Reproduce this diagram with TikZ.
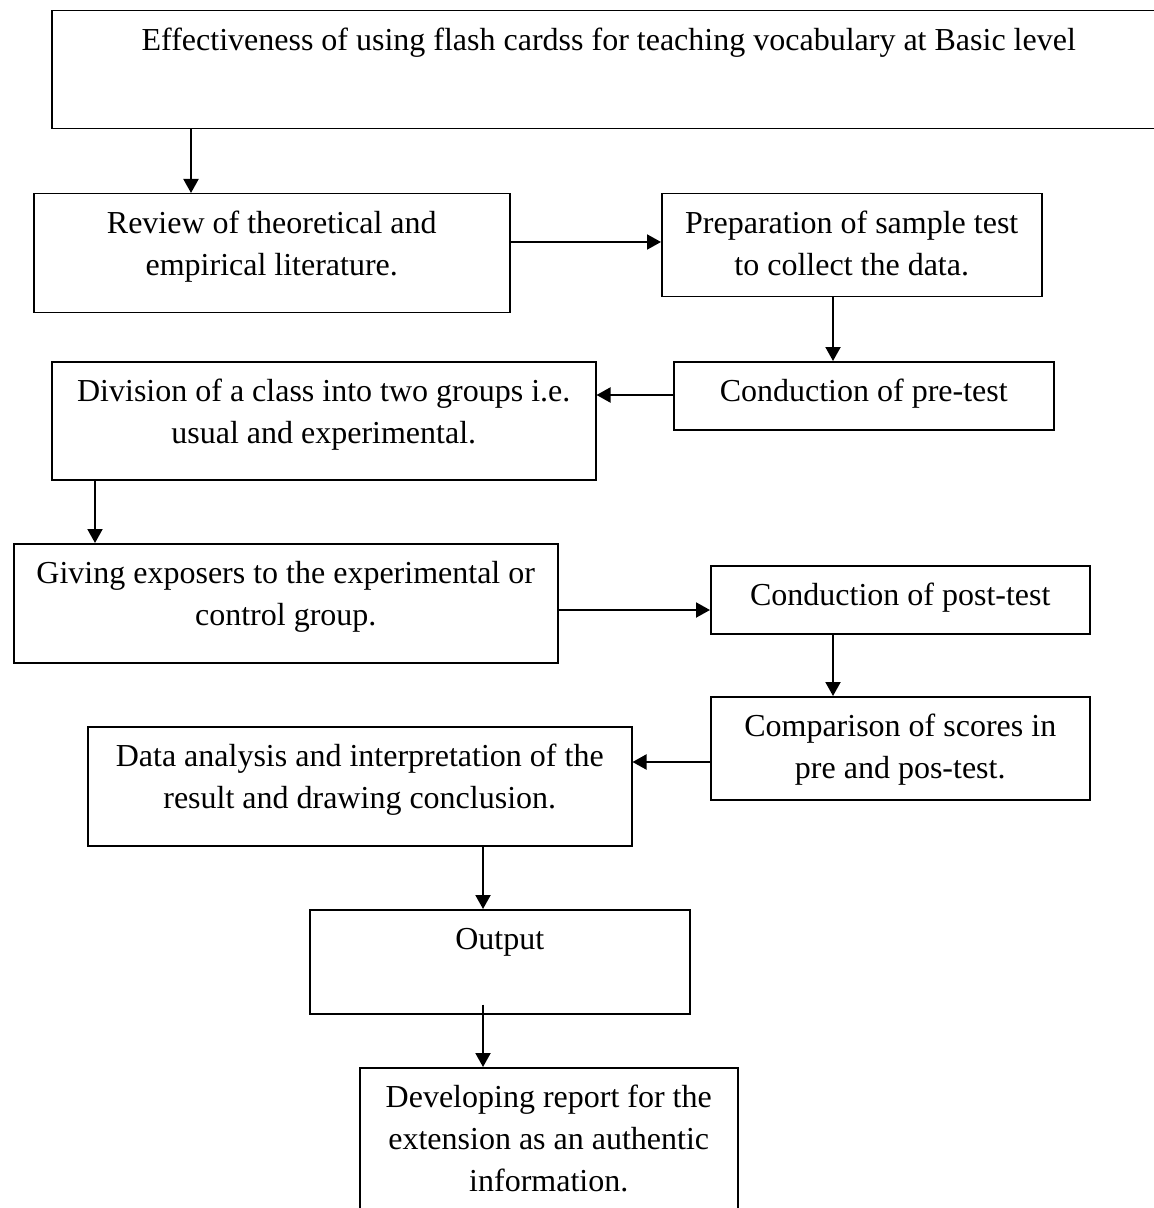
\documentclass[tikz,border=0pt]{standalone}
\usepackage{fontspec}
\setmainfont{Liberation Serif}
\usepackage{tikz}
\usetikzlibrary{arrows.meta}

% box of fixed size, text starting at the top
\newcommand{\boxtext}[3]{\parbox[c][#2][t]{#1}{\centering\rule{0pt}{20pt}#3}}

\begin{document}
\begin{tikzpicture}[x=0.5pt,y=-0.5pt,
    flow/.style={draw, line width=0.75pt, inner sep=0pt, anchor=north west,
                 font=\fontsize{16}{21}\selectfont},
    arr/.style={line width=1pt, -{Triangle[length=7pt,width=7.5pt]}}]
\useasboundingbox (0,0) rectangle (1153,1208);

% Boxes
\node[flow] (title) at (51,10) {\boxtext{557pt}{59pt}{Effectiveness of using flash cardss for teaching vocabulary at Basic level}};
\node[flow] (review) at (33,193) {\boxtext{238pt}{59.5pt}{Review of theoretical and\\ empirical literature.}};
\node[flow] (prep) at (661,193) {\boxtext{190pt}{51.5pt}{Preparation of sample test\\ to collect the data.}};
\node[flow] (pre) at (673,361) {\boxtext{190pt}{34pt}{Conduction of pre-test}};
\node[flow] (division) at (51,361) {\boxtext{272pt}{59pt}{Division of a class into two groups i.e.\\ usual and experimental.}};
\node[flow] (giving) at (13,543) {\boxtext{272pt}{59.5pt}{Giving exposers to the experimental or\\ control group.}};
\node[flow] (post) at (710,565) {\boxtext{189.5pt}{34pt}{Conduction of post-test}};
\node[flow] (compare) at (710,696) {\boxtext{189.5pt}{51.5pt}{Comparison of scores in\\ pre and pos-test.}};
\node[flow] (data) at (87,726) {\boxtext{272pt}{59.5pt}{Data analysis and interpretation of the\\ result and drawing conclusion.}};
\node[flow] (output) at (309,909) {\boxtext{190pt}{52pt}{Output}};
\node[flow] (report) at (359,1067) {\boxtext{189pt}{80pt}{Developing report for the\\ extension as an authentic\\ information.}};

% Arrows down
\foreach \a/\b/\x in {title/review/191, prep/pre/833, division/giving/95, post/compare/833, data/output/483} {
    \draw[arr] (\a.south -| \x,0) -- (\b.north -| \x,0);
}
% Arrows sideways
\foreach \a/\b/\y in {review.east/prep.west/242, pre.west/division.east/395,
                      giving.east/post.west/610, compare.west/data.east/762} {
    \draw[arr] (\a |- 0,\y) -- (\b |- 0,\y);
}
% last arrow starts inside the Output box
\path (output.south -| 483,0) ++(0,-10) coordinate (outstart);
\draw[arr] (outstart) -- (report.north -| 483,0);
\end{tikzpicture}
\end{document}
